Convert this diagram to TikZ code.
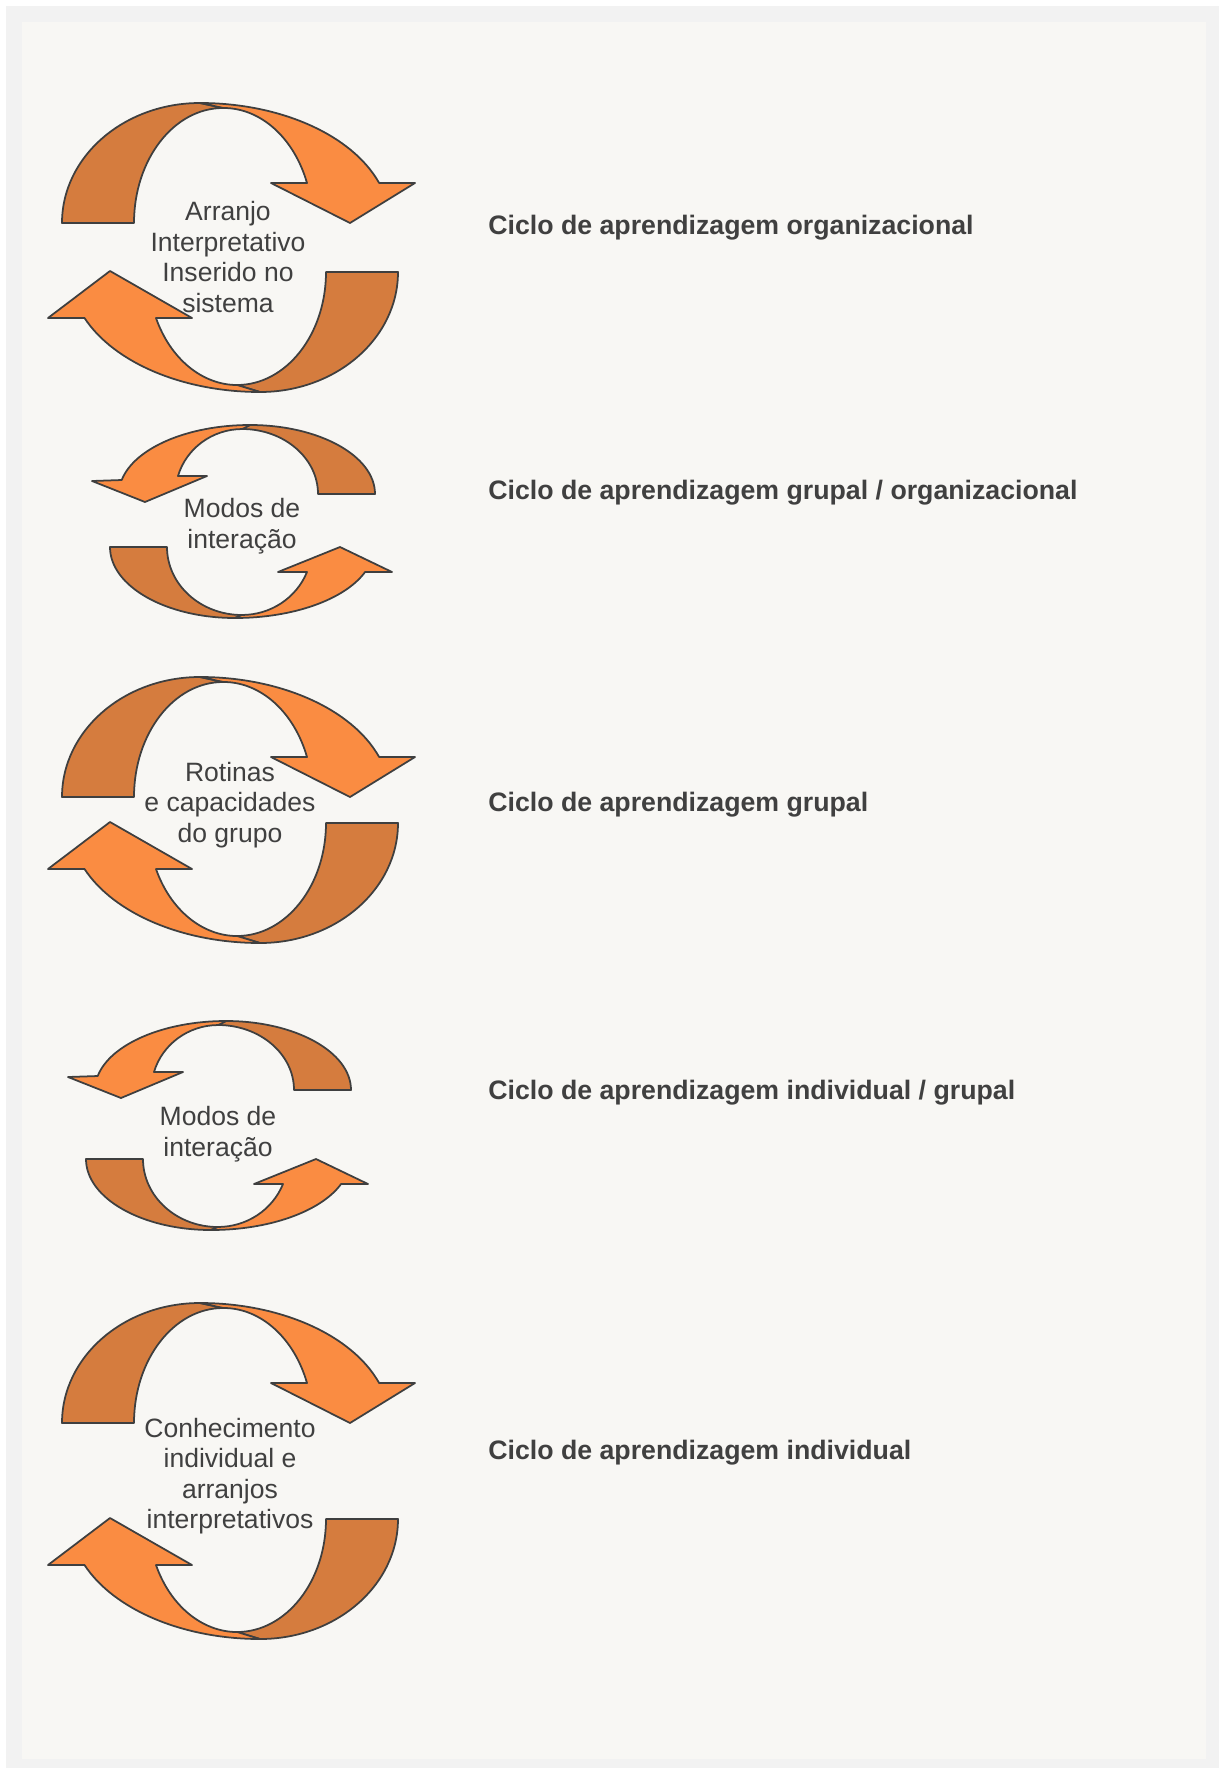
\documentclass[tikz,border=0pt]{standalone}
\usepackage{fontspec}
\setmainfont{Liberation Sans}

\definecolor{framegray}{HTML}{F2F2F2}
\definecolor{papercream}{HTML}{F8F7F4}
\definecolor{darkband}{HTML}{D57C3E}
\definecolor{lightband}{HTML}{FA8C42}
\definecolor{edgegray}{HTML}{3F3F3F}
\definecolor{textgray}{HTML}{404040}

\tikzset{
  ribbondark/.style={fill=darkband, draw=edgegray, line width=1pt, line join=round},
  ribbonlight/.style={fill=lightband, draw=edgegray, line width=1pt, line join=round},
  cycletext/.style={text=textgray, align=center, inner sep=0pt,
    font=\fontsize{15.1}{17.3}\selectfont},
  cyclelabel/.style={text=textgray, anchor=west, inner sep=0pt,
    font=\fontsize{15.2}{19}\selectfont\bfseries},
  % large ring, upper arrow turning right
  bigtop/.pic={
    \path[ribbondark] (62,223) arc[start angle=180, end angle=270, x radius=138, y radius=120]
      -- (223,108) arc[start angle=270, end angle=180, x radius=89, y radius=115] -- cycle;
    \path[ribbonlight] (200,103) arc[start angle=270, end angle=340.5, x radius=190, y radius=120]
      -- (415,183) -- (350,223) -- (271,183) -- (307,183)
      arc[start angle=339.65, end angle=270, x radius=89, y radius=115] -- cycle;
  },
  % large ring, lower arrow turning left
  bigbot/.pic={
    \path[ribbondark] (398,272) arc[start angle=0, end angle=90, x radius=138, y radius=120]
      -- (237,385) arc[start angle=90, end angle=0, x radius=89, y radius=113] -- cycle;
    \path[ribbonlight] (260,392) arc[start angle=90, end angle=157.5, x radius=190, y radius=120]
      -- (48,318) -- (110,271) -- (192,318) -- (156,318)
      arc[start angle=156, end angle=90, x radius=89, y radius=113] -- cycle;
  },
  % small ring, upper arrow turning left
  smalltop/.pic={
    \path[ribbondark] (375,494) arc[start angle=0, end angle=-90, x radius=125, y radius=69]
      -- (242,429) arc[start angle=-90, end angle=0, x radius=76, y radius=65] -- cycle;
    \path[ribbonlight] (250,425) arc[start angle=-90, end angle=-168.3, x radius=131, y radius=69]
      -- (92,481) -- (145,502) -- (207,476) -- (178,476)
      arc[start angle=-163.9, end angle=-90, x radius=67, y radius=65] -- cycle;
  },
  % small ring, lower arrow turning right
  smallbot/.pic={
    \path[ribbondark] (110,547) arc[start angle=180, end angle=90, x radius=125, y radius=71]
      -- (242,615) arc[start angle=90, end angle=180, x radius=75, y radius=68] -- cycle;
    \path[ribbonlight] (235,618) arc[start angle=90, end angle=20.6, x radius=139, y radius=71]
      -- (392,572) -- (340,547) -- (278,572) -- (307,572)
      arc[start angle=21.6, end angle=90, x radius=70, y radius=68] -- cycle;
  }
}

\begin{document}
\begin{tikzpicture}[x=0.02cm,y=-0.02cm]
  % page and panel
  \useasboundingbox (0,0) rectangle (1219,1768);
  \fill[white] (0,0) rectangle (1219,1768);
  \fill[framegray] (6,6) rectangle (1219,1768);
  \fill[papercream] (22,22) rectangle (1206,1759);

  % rings
  \pic (orgtop) at (0,0) {bigtop};
  \pic (orgbot) at (0,0) {bigbot};
  \pic (grporgtop) at (0,0) {smalltop};
  \pic (grporgbot) at (0,0) {smallbot};
  \pic (grptop) at (0,574) {bigtop};
  \pic (grpbot) at (0,551) {bigbot};
  \pic (indgrptop) at (-24,596) {smalltop};
  \pic (indgrpbot) at (-24,612) {smallbot};
  \pic (indtop) at (0,1200) {bigtop};
  \pic (indbot) at (0,1247) {bigbot};

  % texts inside the rings
  \node[cycletext] (orgtxt) at (228,257) {Arranjo\\Interpretativo\\Inserido no\\sistema};
  \node[cycletext] (grporgtxt) at (242,526) {Modos de\\interação};
  \node[cycletext] (grptxt) at (230,805) {Rotinas\\e capacidades\\do grupo};
  \node[cycletext] (indgrptxt) at (218,1134) {Modos de\\interação};
  \node[cycletext] (indtxt) at (230,1476) {Conhecimento\\individual e\\arranjos\\interpretativos};

  % labels
  \node[cyclelabel] (orglbl) at (488,228) {Ciclo de aprendizagem organizacional};
  \node[cyclelabel] (grporglbl) at (488,493) {Ciclo de aprendizagem grupal / organizacional};
  \node[cyclelabel] (grplbl) at (488,805) {Ciclo de aprendizagem grupal};
  \node[cyclelabel] (indgrplbl) at (488,1093) {Ciclo de aprendizagem individual / grupal};
  \node[cyclelabel] (indlbl) at (488,1453) {Ciclo de aprendizagem individual};
\end{tikzpicture}
\end{document}
